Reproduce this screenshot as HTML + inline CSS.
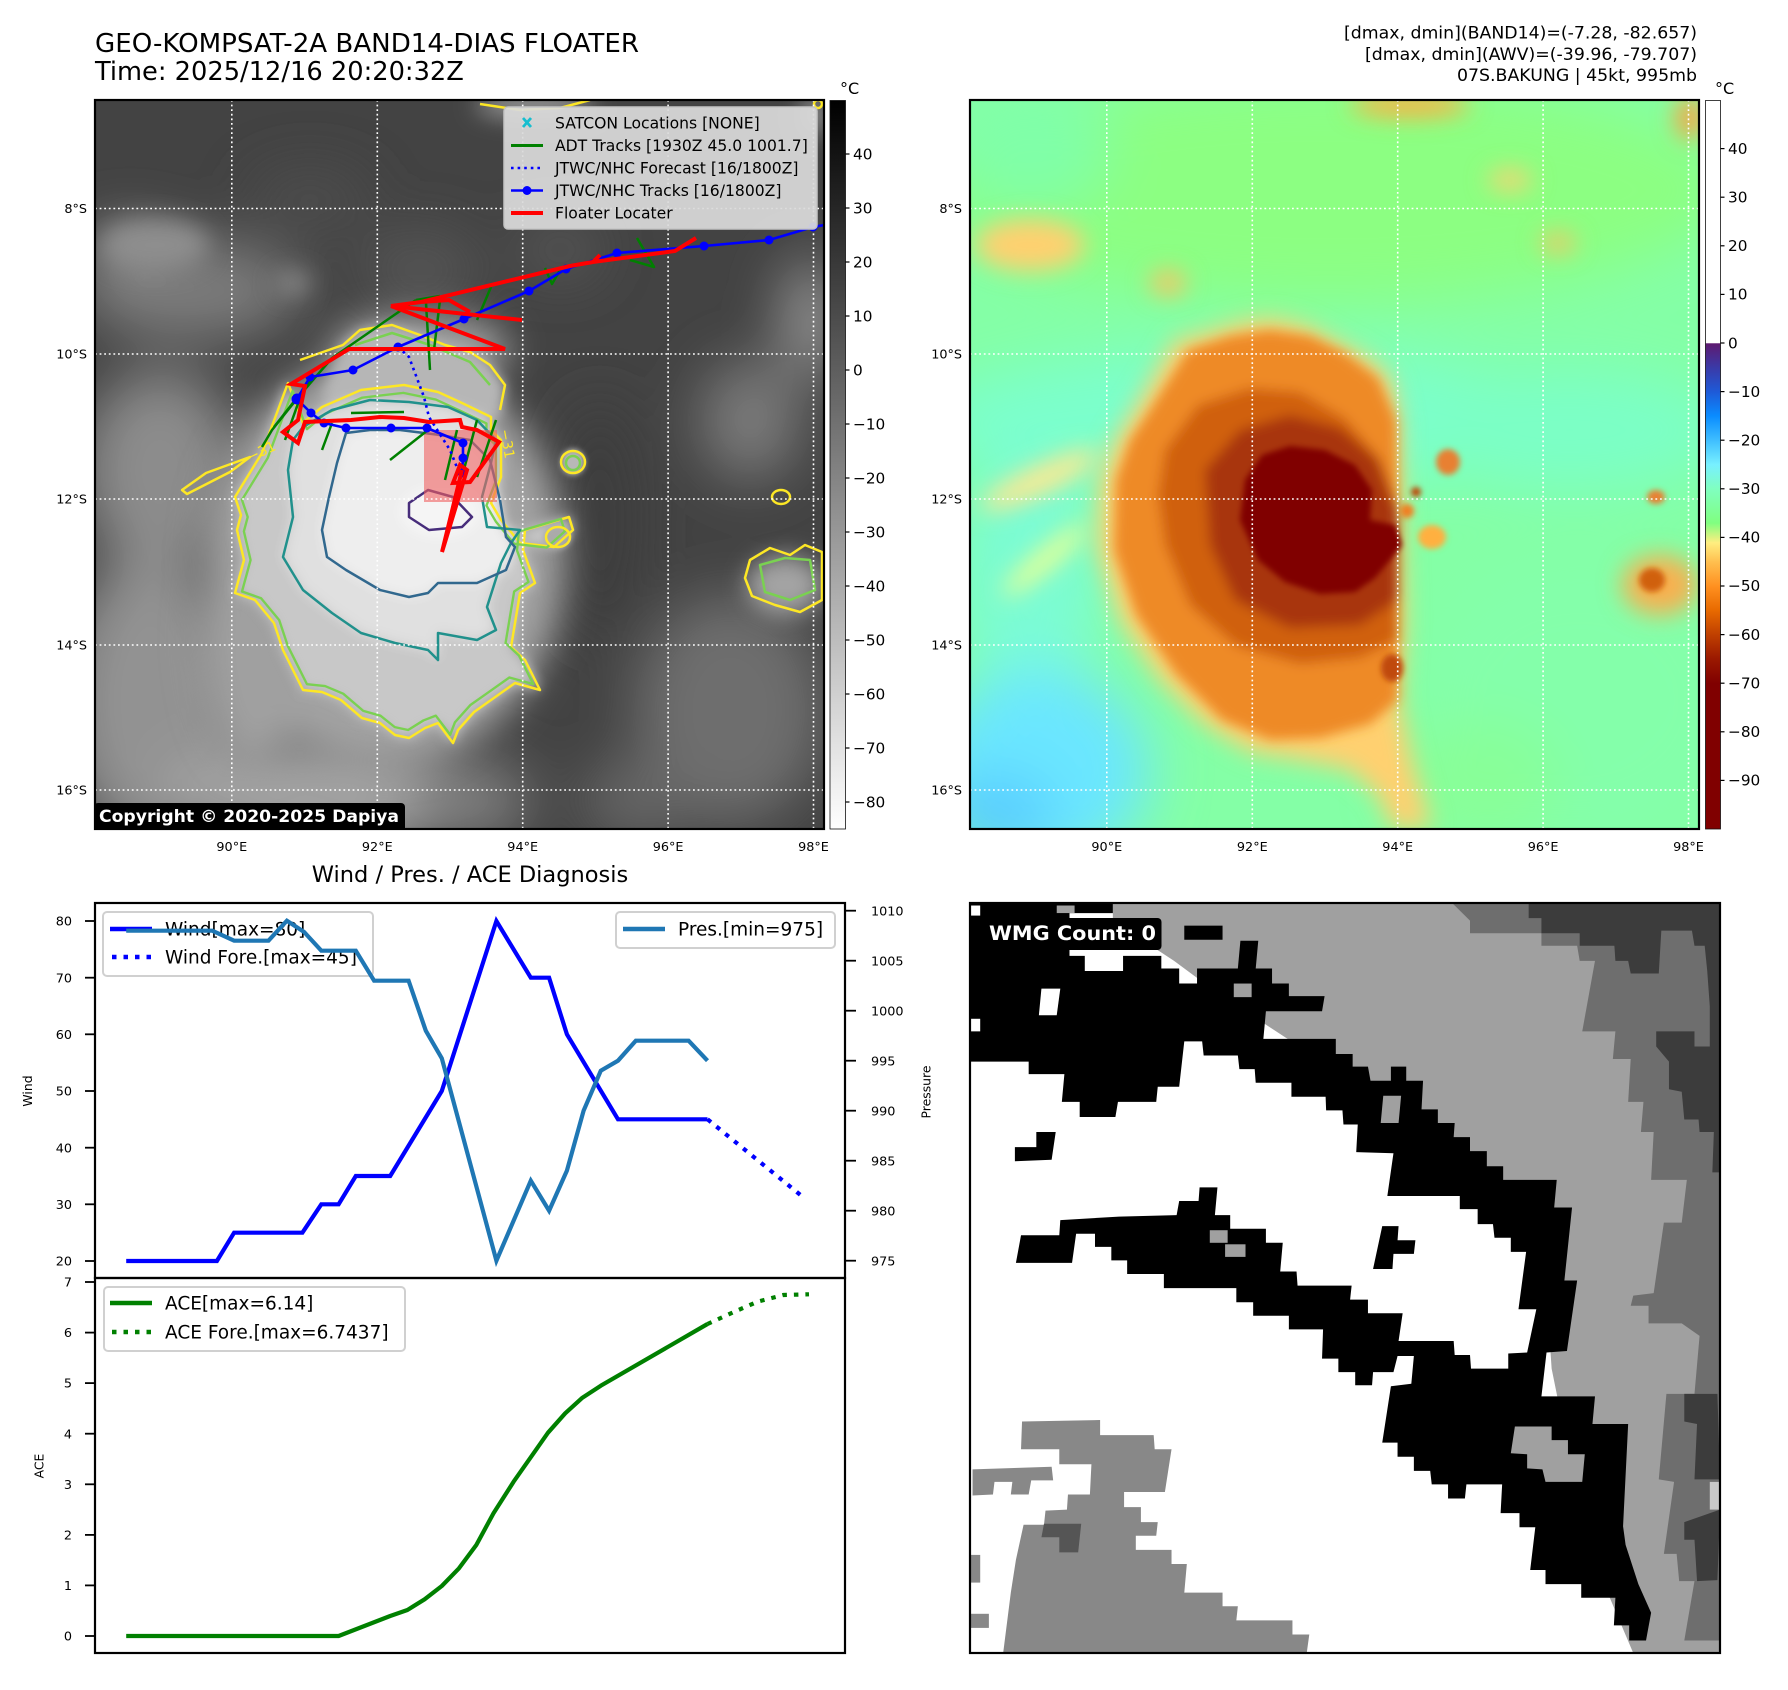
<!DOCTYPE html>
<html><head><meta charset="utf-8"><style>
html,body{margin:0;padding:0;background:#fff;}
svg{display:block;}
text{font-family:"DejaVu Sans","Liberation Sans",sans-serif;}
</style></head><body>
<svg width="1788" height="1690" viewBox="0 0 1788 1690" xmlns="http://www.w3.org/2000/svg">
<defs>
<filter id="b30" filterUnits="userSpaceOnUse" x="-1000" y="-200" width="3800" height="2200"><feGaussianBlur stdDeviation="28"/></filter>
<filter id="b18" filterUnits="userSpaceOnUse" x="-1000" y="-200" width="3800" height="2200"><feGaussianBlur stdDeviation="18"/></filter>
<filter id="b12" filterUnits="userSpaceOnUse" x="-1000" y="-200" width="3800" height="2200"><feGaussianBlur stdDeviation="12"/></filter>
<filter id="b6" filterUnits="userSpaceOnUse" x="-1000" y="-200" width="3800" height="2200"><feGaussianBlur stdDeviation="6"/></filter>
<filter id="b3" filterUnits="userSpaceOnUse" x="-1000" y="-200" width="3800" height="2200"><feGaussianBlur stdDeviation="3"/></filter>
<clipPath id="cL"><rect x="95" y="100" width="729" height="729"/></clipPath>
<clipPath id="cR"><rect x="970" y="100" width="729" height="729"/></clipPath>
<clipPath id="cW"><rect x="970" y="903" width="750" height="750"/></clipPath>
<linearGradient id="gL" x1="0" y1="0" x2="0" y2="1"><stop offset="0" stop-color="#000"/><stop offset="1" stop-color="#fff"/></linearGradient>
<linearGradient id="gR" x1="0" y1="0" x2="0" y2="1">
<stop offset="0" stop-color="#fff"/><stop offset="0.333" stop-color="#fff"/>
<stop offset="0.3335" stop-color="#5e1a70"/>
<stop offset="0.367" stop-color="#3a3aa8"/>
<stop offset="0.40" stop-color="#1e5ad8"/>
<stop offset="0.433" stop-color="#0a8cff"/>
<stop offset="0.467" stop-color="#40bfff"/>
<stop offset="0.50" stop-color="#78f0ff"/>
<stop offset="0.533" stop-color="#80ffc0"/>
<stop offset="0.58" stop-color="#80ff80"/>
<stop offset="0.607" stop-color="#ffee80"/>
<stop offset="0.633" stop-color="#ffc050"/>
<stop offset="0.667" stop-color="#ff9020"/>
<stop offset="0.70" stop-color="#e86a00"/>
<stop offset="0.733" stop-color="#c04000"/>
<stop offset="0.767" stop-color="#9a1800"/>
<stop offset="0.80" stop-color="#800000"/>
<stop offset="1" stop-color="#800000"/>
</linearGradient>
<path id="sF" d="M1140,400 L1175,340 L1205,333 L1240,322 L1270,318 L1305,325 L1340,343 L1372,360 L1392,380 L1400,420 L1402,520 L1405,620 L1400,700 L1412,760 L1432,829 L1392,829 L1378,795 L1350,770 L1300,760 L1250,752 L1205,725 L1160,680 L1120,620 L1098,550 L1100,480 L1115,440 Z"/>
<path id="sO" d="M1150,410 L1188,350 L1230,336 L1270,330 L1310,336 L1345,353 L1378,378 L1396,420 L1398,520 L1398,700 L1370,724 L1320,738 L1270,740 L1222,720 L1176,674 L1136,615 L1114,550 L1116,480 L1130,440 Z"/>
<path id="sD" d="M1165,450 L1198,405 L1250,388 L1300,392 L1345,418 L1380,458 L1398,510 L1398,640 L1360,658 L1300,664 L1236,646 L1190,605 L1165,545 L1158,495 Z"/>
<path id="sB" d="M1205,470 L1240,430 L1290,415 L1340,428 L1378,460 L1398,510 L1398,600 L1360,625 L1290,628 L1235,600 L1210,545 Z"/>
<path id="sC" d="M1240,520 L1245,480 L1262,455 L1290,446 L1325,450 L1355,465 L1372,490 L1370,520 L1395,525 L1402,545 L1390,560 L1375,578 L1355,592 L1320,594 L1285,582 L1258,560 Z"/>
<path id="lY" d="M288,383 L262,453 L235,497 L241,515 L237,530 L244,560 L235,593 L255,600 L274,623 L283,650 L293,670 L303,690 L322,692 L341,700 L362,718 L380,723 L395,735 L409,738 L425,728 L438,723 L453,743 L458,730 L474,712 L491,700 L515,683 L540,690 L525,660 L511,647 L520,593 L535,583 L523,550 L525,530 L569,517 L573,530 L554,547 L520,543 L501,520 L491,503 L501,477 L501,440 L491,430 L491,417 L462,403 L438,392 L404,385 L361,390 L322,407 L303,423 Z"/>
<path id="lT" d="M293,440 L288,470 L293,517 L283,557 L303,590 L332,613 L361,633 L395,643 L428,650 L438,660 L438,633 L477,640 L496,630 L487,607 L501,563 L511,543 L520,530 L487,527 L482,497 L491,463 L496,440 L477,420 L448,407 L409,402 L370,400 L332,410 L303,427 Z"/>
<path id="lS" d="M346,433 L337,463 L329,497 L322,530 L327,557 L346,570 L380,590 L409,597 L428,593 L438,583 L477,583 L506,570 L515,547 L506,537 L500,500 L490,460 L470,440 L440,435 L400,430 L370,430 Z"/>
</defs>

<rect width="1788" height="1690" fill="#fff"/>

<!-- ============ TITLES ============ -->
<text x="95" y="52" font-size="25.7" textLength="544" lengthAdjust="spacingAndGlyphs">GEO-KOMPSAT-2A BAND14-DIAS FLOATER</text>
<text x="95" y="80" font-size="25.7">Time: 2025/12/16 20:20:32Z</text>
<text x="1697" y="38.5" font-size="17" text-anchor="end" textLength="353" lengthAdjust="spacingAndGlyphs">[dmax, dmin](BAND14)=(-7.28, -82.657)</text>
<text x="1697" y="60" font-size="17" text-anchor="end" textLength="332" lengthAdjust="spacingAndGlyphs">[dmax, dmin](AWV)=(-39.96, -79.707)</text>
<text x="1697" y="81" font-size="17" text-anchor="end" textLength="240" lengthAdjust="spacingAndGlyphs">07S.BAKUNG | 45kt, 995mb</text>

<!-- ============ LEFT MAP ============ -->
<g clip-path="url(#cL)">
<rect x="95" y="100" width="729" height="729" fill="#434343"/>
<g filter="url(#b30)">
<ellipse cx="190" cy="290" rx="110" ry="50" fill="#7c7c7c"/>
<ellipse cx="130" cy="250" rx="45" ry="25" fill="#888"/>
<ellipse cx="310" cy="200" rx="60" ry="30" fill="#4e4e4e"/>
<ellipse cx="420" cy="270" rx="60" ry="40" fill="#555"/>
<ellipse cx="812" cy="320" rx="30" ry="60" fill="#959595"/>
<ellipse cx="750" cy="420" rx="50" ry="60" fill="#7a7a7a"/>
<ellipse cx="160" cy="470" rx="80" ry="100" fill="#8c8c8c"/>
<ellipse cx="150" cy="700" rx="90" ry="145" fill="#929292"/>
<ellipse cx="320" cy="795" rx="160" ry="60" fill="#a2a2a2"/>
<ellipse cx="470" cy="800" rx="60" ry="40" fill="#808080"/>
<ellipse cx="730" cy="710" rx="95" ry="115" fill="#6e6e6e"/>
<ellipse cx="640" cy="800" rx="60" ry="40" fill="#666"/>
<ellipse cx="560" cy="250" rx="40" ry="25" fill="#5a5a5a"/>
<ellipse cx="600" cy="520" rx="40" ry="120" fill="#3c3c3c"/>
</g>
<g filter="url(#b18)">
<ellipse cx="385" cy="560" rx="180" ry="205" fill="#a2a2a2"/>
<ellipse cx="255" cy="640" rx="55" ry="125" fill="#a0a0a0"/>
<ellipse cx="420" cy="350" rx="90" ry="35" fill="#a4a4a4"/>
</g>
<g filter="url(#b12)">
<ellipse cx="155" cy="245" rx="55" ry="26" fill="#8e8e8e"/>
<ellipse cx="293" cy="283" rx="18" ry="12" fill="#888"/>
<ellipse cx="535" cy="105" rx="60" ry="12" fill="#a0a0a0"/>
<ellipse cx="815" cy="115" rx="12" ry="20" fill="#9a9a9a"/>
<ellipse cx="785" cy="585" rx="38" ry="30" fill="#a4a4a4"/>
</g>
<g filter="url(#b6)">
<use href="#lY" fill="#c8c8c8"/>
<path d="M343,345 L360,330 L392,325 L420,335 L445,345 L470,352 L490,365 L505,385 L500,420 L440,400 L360,400 L320,400 Z" fill="#b6b6b6"/>
<use href="#lT" fill="#e0e0e0"/>
<use href="#lS" fill="#eeeeee"/>
<ellipse cx="440" cy="512" rx="40" ry="25" fill="#f5f5f5"/>
</g>
<g filter="url(#b3)">
<ellipse cx="573" cy="462" rx="12" ry="13" fill="#b8b8b8"/>
<ellipse cx="557" cy="537" rx="14" ry="12" fill="#aaa"/>
</g>
<!-- contours -->
<g fill="none" stroke-width="2.5" stroke-linejoin="round">
<use href="#lY" stroke="#fde725"/>
<use href="#lY" stroke="#7ad151" transform="translate(390 560) scale(0.955) translate(-390 -560)"/>
<path stroke="#fde725" d="M300,360 L343,345 L360,330 L392,325 L420,335 L445,345 L470,352 L490,365 L505,385 L500,410"/>
<path stroke="#7ad151" d="M355,345 L392,333 L430,345 L470,362 L490,385"/>
<path stroke="#fde725" d="M182,490 L206,473 L250,457 L230,472 L187,494 Z"/>
<use href="#lT" stroke="#21918c"/>
<use href="#lS" stroke="#31688e"/>
<path stroke="#472d7b" d="M409,503 L428,490 L453,497 L472,517 L462,527 L429,530 L409,517 Z"/>
<ellipse cx="573" cy="462" rx="12" ry="11" stroke="#fde725"/>
<ellipse cx="573" cy="463" rx="7" ry="7" stroke="#7ad151"/>
<ellipse cx="781" cy="497" rx="9" ry="7" stroke="#fde725"/>
<ellipse cx="558" cy="537" rx="12" ry="10" stroke="#fde725"/>
<path stroke="#fde725" d="M750,560 L770,548 L790,555 L805,545 L822,552 L822,600 L800,612 L775,605 L752,596 L745,578 Z"/>
<path stroke="#7ad151" d="M760,565 L785,558 L810,560 L815,590 L790,600 L765,592 Z"/>
<path stroke="#fde725" d="M480,104 L520,110 L560,108 L590,100"/>
<circle cx="818" cy="104" r="4" stroke="#fde725"/>
</g>
<text x="250" y="462" font-size="14" fill="#fde725" transform="rotate(-25 250 462)">−31</text>
<text x="500" y="430" font-size="14" fill="#fde725" transform="rotate(80 500 430)">−31</text>
<rect x="424" y="430" width="73" height="72" fill="#f06060" fill-opacity="0.6"/>
<g stroke="#fff" stroke-width="1.6" stroke-dasharray="1.8,2.8">
<line x1="231.8" y1="100" x2="231.8" y2="829"/><line x1="377.3" y1="100" x2="377.3" y2="829"/><line x1="522.7" y1="100" x2="522.7" y2="829"/><line x1="668.1" y1="100" x2="668.1" y2="829"/><line x1="813.5" y1="100" x2="813.5" y2="829"/>
<line x1="95" y1="208.5" x2="824" y2="208.5"/><line x1="95" y1="354" x2="824" y2="354"/><line x1="95" y1="499" x2="824" y2="499"/><line x1="95" y1="645" x2="824" y2="645"/><line x1="95" y1="790" x2="824" y2="790"/>
</g>
<g fill="none" stroke="#008000" stroke-width="2.5" stroke-linejoin="round">
<path d="M416,300 L332,358 L300,395 L272,430 L262,447"/>
<path d="M416,300 L440,296"/>
<path d="M426,303 L430,370"/>
<path d="M440,300 L434,350"/>
<path d="M477,320 L491,287"/>
<path d="M303,390 L274,427"/>
<path d="M322,450 L332,423"/>
<path d="M351,413 L404,412"/>
<path d="M390,460 L428,430"/>
<path d="M445,480 L457,430"/>
<path d="M462,477 L477,420"/>
<path d="M477,477 L496,420"/>
<path d="M545,268 L552,284 L560,270"/>
<path d="M637,238 L654,267 L630,260"/>
<path d="M285,440 L300,398 L310,380"/>
</g>
<g fill="none" stroke="#0000ff" stroke-width="2.6" stroke-dasharray="2.6,4">
<path d="M398,347 L409,357 L424,397 L429,417 L450,450 L458,470"/>
</g>
<g fill="none" stroke="#0000ff" stroke-width="2.6" stroke-linejoin="round">
<path d="M830,224 L813,227 L769,240 L704,246 L617,253 L566,269 L529,291 L464,319 L398,347 L353,370 L310,377 L297,399 L311,413 L324,423 L346,428 L391,428 L427,428 L463,443 L463,458 L462,473"/>
</g>
<g fill="#0000ff">
<circle cx="813" cy="227" r="4.5"/><circle cx="769" cy="240" r="4.5"/><circle cx="704" cy="246" r="4.5"/><circle cx="617" cy="253" r="4.5"/><circle cx="566" cy="269" r="4.5"/><circle cx="529" cy="291" r="4.5"/><circle cx="464" cy="319" r="4.5"/><circle cx="398" cy="347" r="4.5"/><circle cx="353" cy="370" r="4.5"/><circle cx="310" cy="377" r="4.5"/><circle cx="297" cy="399" r="5.5"/><circle cx="311" cy="413" r="4.5"/><circle cx="324" cy="423" r="4.5"/><circle cx="346" cy="428" r="4.5"/><circle cx="391" cy="428" r="4.5"/><circle cx="427" cy="428" r="4.5"/><circle cx="463" cy="443" r="4.5"/><circle cx="463" cy="458" r="4.5"/><circle cx="462" cy="473" r="4.5"/>
</g>
<g fill="none" stroke="#ff0000" stroke-width="4" stroke-linejoin="miter">
<path d="M696,238 L675,251 L593,262 L600,255 M593,262 L570,266 L421,302 L391,306 L522,320 M421,302 L449,300 L470,312"/>
<path d="M391,306 L505,349 L349,349 L291,384 L305,386 L298,420 L283,432 L298,443 L305,422 L351,420 L380,417 L404,418 L429,422 L460,420 L462,427 L477,430 L499,442 L470,482 L453,483 L460,465 L467,470 L442,552 L462,470"/>
</g>
<rect x="94" y="803" width="311" height="30" rx="4" fill="#000"/>
<text x="99" y="822" font-size="17" font-weight="bold" fill="#fff" textLength="300" lengthAdjust="spacingAndGlyphs">Copyright © 2020-2025 Dapiya</text>
</g>
<rect x="504" y="107" width="313" height="122" rx="4" fill="#dadada" fill-opacity="0.93" stroke="#c4c4c4" stroke-width="1.5"/>
<g stroke="#17becf" stroke-width="2.8"><line x1="523" y1="118" x2="531" y2="127"/><line x1="531" y1="118" x2="523" y2="127"/></g>
<line x1="511" y1="145.5" x2="543" y2="145.5" stroke="#008000" stroke-width="3"/>
<line x1="511" y1="168" x2="543" y2="168" stroke="#0000ff" stroke-width="2.6" stroke-dasharray="2.6,4"/>
<line x1="511" y1="190.5" x2="543" y2="190.5" stroke="#0000ff" stroke-width="2.6"/><circle cx="527" cy="190.5" r="4.5" fill="#0000ff"/>
<line x1="511" y1="213" x2="543" y2="213" stroke="#ff0000" stroke-width="4"/>
<g font-size="15.6" fill="#000">
<text x="555" y="128.5">SATCON Locations [NONE]</text>
<text x="555" y="151">ADT Tracks [1930Z 45.0 1001.7]</text>
<text x="555" y="173.5">JTWC/NHC Forecast [16/1800Z]</text>
<text x="555" y="196">JTWC/NHC Tracks [16/1800Z]</text>
<text x="555" y="218.5">Floater Locater</text>
</g>
<rect x="95" y="100" width="729" height="729" fill="none" stroke="#000" stroke-width="2.2"/>
<rect x="830" y="100.5" width="15.5" height="728.5" fill="url(#gL)" stroke="#111" stroke-width="0.8"/>
<text x="840" y="94" font-size="16">°C</text>
<g font-size="15.3" fill="#000">
<text x="853" y="159.5">40</text><text x="853" y="213.5">30</text><text x="853" y="267.5">20</text><text x="853" y="321.5">10</text><text x="853" y="375.5">0</text><text x="853" y="429.5">−10</text><text x="853" y="483.5">−20</text><text x="853" y="537.5">−30</text><text x="853" y="591.5">−40</text><text x="853" y="645.5">−50</text><text x="853" y="699.5">−60</text><text x="853" y="753.5">−70</text><text x="853" y="807.5">−80</text>
</g>
<g stroke="#000" stroke-width="1.2">
<line x1="845.5" y1="154" x2="849.5" y2="154"/><line x1="845.5" y1="208" x2="849.5" y2="208"/><line x1="845.5" y1="262" x2="849.5" y2="262"/><line x1="845.5" y1="316" x2="849.5" y2="316"/><line x1="845.5" y1="370" x2="849.5" y2="370"/><line x1="845.5" y1="424" x2="849.5" y2="424"/><line x1="845.5" y1="478" x2="849.5" y2="478"/><line x1="845.5" y1="532" x2="849.5" y2="532"/><line x1="845.5" y1="586" x2="849.5" y2="586"/><line x1="845.5" y1="640" x2="849.5" y2="640"/><line x1="845.5" y1="694" x2="849.5" y2="694"/><line x1="845.5" y1="748" x2="849.5" y2="748"/><line x1="845.5" y1="802" x2="849.5" y2="802"/>
</g>
<g font-size="12.8" fill="#000" text-anchor="end">
<text x="87" y="213">8°S</text><text x="87" y="358.5">10°S</text><text x="87" y="503.5">12°S</text><text x="87" y="649.5">14°S</text><text x="87" y="794.5">16°S</text>
<text x="962" y="213">8°S</text><text x="962" y="358.5">10°S</text><text x="962" y="503.5">12°S</text><text x="962" y="649.5">14°S</text><text x="962" y="794.5">16°S</text>
</g>
<g font-size="12.8" fill="#000" text-anchor="middle">
<text x="231.8" y="851">90°E</text><text x="377.3" y="851">92°E</text><text x="522.7" y="851">94°E</text><text x="668.1" y="851">96°E</text><text x="813.5" y="851">98°E</text>
<text x="1106.8" y="851">90°E</text><text x="1252.3" y="851">92°E</text><text x="1397.7" y="851">94°E</text><text x="1543.1" y="851">96°E</text><text x="1688.5" y="851">98°E</text>
</g>

<!-- ============ RIGHT MAP ============ -->
<g clip-path="url(#cR)">
<rect x="970" y="100" width="729" height="729" fill="#84ffa6"/>
<g filter="url(#b30)">
<ellipse cx="1330" cy="190" rx="400" ry="110" fill="#8cff82"/>
<ellipse cx="1030" cy="150" rx="80" ry="60" fill="#80ffa8"/>
<ellipse cx="1250" cy="420" rx="330" ry="70" fill="#7cffcc"/>
<ellipse cx="1570" cy="430" rx="160" ry="60" fill="#7cffc6"/>
<ellipse cx="1580" cy="700" rx="160" ry="140" fill="#84ffaa"/>
<ellipse cx="1030" cy="580" rx="70" ry="140" fill="#7cfcd4"/>
<ellipse cx="1040" cy="770" rx="110" ry="100" fill="#6ae6ff"/>
<ellipse cx="995" cy="815" rx="60" ry="40" fill="#58ccff"/>
<ellipse cx="1480" cy="780" rx="80" ry="60" fill="#88ff98"/>
</g>
<g filter="url(#b12)">
<ellipse cx="1030" cy="245" rx="55" ry="26" fill="#ffd070"/>
<ellipse cx="1168" cy="283" rx="18" ry="12" fill="#ffc060"/>
<ellipse cx="1510" cy="180" rx="22" ry="10" fill="#ffd070"/>
<ellipse cx="1558" cy="243" rx="18" ry="9" fill="#ffc060"/>
<ellipse cx="1410" cy="105" rx="60" ry="12" fill="#ffb040"/>
<ellipse cx="1690" cy="118" rx="14" ry="22" fill="#ffa040"/>
<ellipse cx="1040" cy="480" rx="65" ry="14" fill="#ffe890" transform="rotate(-25 1040 480)"/>
<ellipse cx="1045" cy="560" rx="55" ry="10" fill="#f0ff90" transform="rotate(-40 1045 560)"/>
<ellipse cx="1660" cy="585" rx="38" ry="30" fill="#f8b050"/>
</g>
<g filter="url(#b12)">
<use href="#sF" fill="#ffd070"/>
</g>
<g filter="url(#b6)">
<use href="#sO" fill="#ee8a28"/>
<use href="#sD" fill="#d06010"/>
<use href="#sB" fill="#a83408"/>
</g>
<g filter="url(#b3)">
<use href="#sC" fill="#800000"/>
</g>
<g filter="url(#b3)">
<ellipse cx="1448" cy="462" rx="12" ry="13" fill="#e88030"/>
<circle cx="1416" cy="492" r="5" fill="#c04000"/>
<circle cx="1407" cy="511" r="7" fill="#f08020"/>
<ellipse cx="1432" cy="537" rx="14" ry="12" fill="#ffb040"/>
<ellipse cx="1656" cy="497" rx="9" ry="7" fill="#e88030"/>
<ellipse cx="1652" cy="580" rx="13" ry="12" fill="#d06010"/>
<ellipse cx="1392" cy="668" rx="11" ry="14" fill="#c04a10"/>
</g>
<g stroke="#fff" stroke-width="1.6" stroke-dasharray="1.8,2.8">
<line x1="1106.8" y1="100" x2="1106.8" y2="829"/><line x1="1252.3" y1="100" x2="1252.3" y2="829"/><line x1="1397.7" y1="100" x2="1397.7" y2="829"/><line x1="1543.1" y1="100" x2="1543.1" y2="829"/><line x1="1688.5" y1="100" x2="1688.5" y2="829"/>
<line x1="970" y1="208.5" x2="1699" y2="208.5"/><line x1="970" y1="354" x2="1699" y2="354"/><line x1="970" y1="499" x2="1699" y2="499"/><line x1="970" y1="645" x2="1699" y2="645"/><line x1="970" y1="790" x2="1699" y2="790"/>
</g>
</g>
<rect x="970" y="100" width="729" height="729" fill="none" stroke="#000" stroke-width="2.2"/>
<rect x="1705.5" y="100.5" width="15" height="728.5" fill="url(#gR)" stroke="#111" stroke-width="0.8"/>
<text x="1715" y="94" font-size="16">°C</text>
<g font-size="15.3" fill="#000">
<text x="1728" y="154">40</text><text x="1728" y="202.5">30</text><text x="1728" y="251">20</text><text x="1728" y="299.5">10</text><text x="1728" y="348.5">0</text><text x="1728" y="397">−10</text><text x="1728" y="445.5">−20</text><text x="1728" y="494">−30</text><text x="1728" y="542.5">−40</text><text x="1728" y="591">−50</text><text x="1728" y="640">−60</text><text x="1728" y="688.5">−70</text><text x="1728" y="737">−80</text><text x="1728" y="785.5">−90</text>
</g>
<g stroke="#000" stroke-width="1.2">
<line x1="1720.5" y1="148.6" x2="1724.5" y2="148.6"/><line x1="1720.5" y1="197.2" x2="1724.5" y2="197.2"/><line x1="1720.5" y1="245.8" x2="1724.5" y2="245.8"/><line x1="1720.5" y1="294.4" x2="1724.5" y2="294.4"/><line x1="1720.5" y1="343" x2="1724.5" y2="343"/><line x1="1720.5" y1="391.6" x2="1724.5" y2="391.6"/><line x1="1720.5" y1="440.2" x2="1724.5" y2="440.2"/><line x1="1720.5" y1="488.8" x2="1724.5" y2="488.8"/><line x1="1720.5" y1="537.4" x2="1724.5" y2="537.4"/><line x1="1720.5" y1="586" x2="1724.5" y2="586"/><line x1="1720.5" y1="634.6" x2="1724.5" y2="634.6"/><line x1="1720.5" y1="683.2" x2="1724.5" y2="683.2"/><line x1="1720.5" y1="731.8" x2="1724.5" y2="731.8"/><line x1="1720.5" y1="780.4" x2="1724.5" y2="780.4"/>
</g>

<!-- ============ WIND / PRES ============ -->
<text x="470" y="882" font-size="22.5" text-anchor="middle">Wind / Pres. / ACE Diagnosis</text>
<rect x="103" y="912" width="270" height="64" rx="4" fill="#fff" fill-opacity="0.8" stroke="#d0d0d0" stroke-width="2"/>
<line x1="110" y1="929" x2="152" y2="929" stroke="#0000ff" stroke-width="4.5"/>
<line x1="112" y1="957" x2="152" y2="957" stroke="#0000ff" stroke-width="4.5" stroke-dasharray="4.5,7"/>
<text x="165" y="935.5" font-size="18.5">Wind[max=80]</text>
<text x="165" y="963.5" font-size="18.5">Wind Fore.[max=45]</text>
<polyline fill="none" stroke="#0000ff" stroke-width="4.2" stroke-linejoin="miter" points="126.2,1261 216.9,1261 234.1,1232.7 302.4,1232.7 321.3,1204.3 338.6,1204.3 355.8,1176 390.2,1176 441.8,1091 496.4,921 530.8,977.7 549.1,977.7 566.9,1034.3 618,1119.3 707.5,1119.3"/>
<polyline fill="none" stroke="#0000ff" stroke-width="4.2" stroke-dasharray="4.5,7" points="707.5,1119.3 804.5,1198.3"/>
<polyline fill="none" stroke="#1f77b4" stroke-width="4.2" stroke-linejoin="miter" points="126.2,930.7 212.3,930.7 234.1,940.7 268.5,940.7 286.9,920.7 304.1,932 321.3,950.7 355.8,950.7 374.1,980.7 408.6,980.7 425.8,1030.7 441.8,1058.3 496.4,1260.7 530.8,1180.7 549.1,1210.7 566.9,1170.7 583.6,1110.7 600.8,1070.7 618,1060.7 635.8,1040.7 688.6,1040.7 707.5,1060.7"/>
<rect x="616" y="912" width="219" height="36" rx="4" fill="#fff" fill-opacity="0.8" stroke="#d0d0d0" stroke-width="2"/>
<line x1="623" y1="929" x2="665" y2="929" stroke="#1f77b4" stroke-width="4.5"/>
<text x="678" y="935.5" font-size="18.5">Pres.[min=975]</text>
<rect x="95" y="903" width="750" height="375" fill="none" stroke="#000" stroke-width="2.2"/>
<g stroke="#000" stroke-width="1.8">
<line x1="85" y1="921" x2="95" y2="921"/><line x1="85" y1="977.7" x2="95" y2="977.7"/><line x1="85" y1="1034.3" x2="95" y2="1034.3"/><line x1="85" y1="1091" x2="95" y2="1091"/><line x1="85" y1="1147.7" x2="95" y2="1147.7"/><line x1="85" y1="1204.3" x2="95" y2="1204.3"/><line x1="85" y1="1261" x2="95" y2="1261"/>
<line x1="845" y1="910.7" x2="856" y2="910.7"/><line x1="845" y1="960.7" x2="856" y2="960.7"/><line x1="845" y1="1010.7" x2="856" y2="1010.7"/><line x1="845" y1="1060.7" x2="856" y2="1060.7"/><line x1="845" y1="1110.7" x2="856" y2="1110.7"/><line x1="845" y1="1160.7" x2="856" y2="1160.7"/><line x1="845" y1="1210.7" x2="856" y2="1210.7"/><line x1="845" y1="1260.7" x2="856" y2="1260.7"/>
</g>
<g font-size="12.8" text-anchor="end">
<text x="72" y="925.6">80</text><text x="72" y="982.3">70</text><text x="72" y="1038.9">60</text><text x="72" y="1095.6">50</text><text x="72" y="1152.3">40</text><text x="72" y="1208.9">30</text><text x="72" y="1265.6">20</text>
</g>
<g font-size="12.8">
<text x="871" y="915.3">1010</text><text x="871" y="965.3">1005</text><text x="871" y="1015.3">1000</text><text x="871" y="1065.3">995</text><text x="871" y="1115.3">990</text><text x="871" y="1165.3">985</text><text x="871" y="1215.3">980</text><text x="871" y="1265.3">975</text>
</g>
<text transform="translate(32,1091) rotate(-90)" font-size="12.4" text-anchor="middle">Wind</text>
<text transform="translate(930.5,1092) rotate(-90)" font-size="12.4" text-anchor="middle">Pressure</text>

<!-- ============ ACE ============ -->
<rect x="104" y="1287" width="301" height="64" rx="4" fill="#fff" fill-opacity="0.8" stroke="#d0d0d0" stroke-width="2"/>
<line x1="110" y1="1303" x2="152" y2="1303" stroke="#008000" stroke-width="4.5"/>
<line x1="112" y1="1332" x2="152" y2="1332" stroke="#008000" stroke-width="4.5" stroke-dasharray="4.5,7"/>
<text x="165" y="1309.5" font-size="18.5">ACE[max=6.14]</text>
<text x="165" y="1338.5" font-size="18.5">ACE Fore.[max=6.7437]</text>
<polyline fill="none" stroke="#008000" stroke-width="4.2" stroke-linejoin="round" points="126.2,1636 338.6,1636 390.2,1616 407.4,1610 424.6,1599.3 441.8,1586 459,1568.3 476.3,1545 493.5,1513.3 513.6,1481.7 548,1432.7 565.2,1413.3 582.4,1397.7 600.8,1385.7 707.5,1324"/>
<path fill="none" stroke="#008000" stroke-width="4.2" stroke-dasharray="4.5,7" d="M707.5,1324 L734.5,1311.7 L757.5,1301.7 L783.3,1295 L809,1294.3"/>
<rect x="95" y="1278" width="750" height="375" fill="none" stroke="#000" stroke-width="2.2"/>
<g stroke="#000" stroke-width="1.8">
<line x1="85" y1="1282" x2="95" y2="1282"/><line x1="85" y1="1332.6" x2="95" y2="1332.6"/><line x1="85" y1="1383.1" x2="95" y2="1383.1"/><line x1="85" y1="1433.7" x2="95" y2="1433.7"/><line x1="85" y1="1484.3" x2="95" y2="1484.3"/><line x1="85" y1="1534.9" x2="95" y2="1534.9"/><line x1="85" y1="1585.4" x2="95" y2="1585.4"/><line x1="85" y1="1636" x2="95" y2="1636"/>
</g>
<g font-size="12.8" text-anchor="end">
<text x="72" y="1286.6">7</text><text x="72" y="1337.2">6</text><text x="72" y="1387.7">5</text><text x="72" y="1438.3">4</text><text x="72" y="1488.9">3</text><text x="72" y="1539.5">2</text><text x="72" y="1590">1</text><text x="72" y="1640.6">0</text>
</g>
<text transform="translate(43.5,1466) rotate(-90)" font-size="12.4" text-anchor="middle">ACE</text>

<!-- ============ WMG ============ -->
<g clip-path="url(#cW)">
<rect x="970" y="903" width="750" height="750" fill="#fff"/>
<g transform="translate(970,903) scale(0.5102,0.5034) translate(-20,-25)">
<polygon fill="#a0a0a0" points="300,25 1490,25 1490,1515 1320,1515 1230,1300 1190,1100 1160,950 1150,800 1120,650 950,520 800,420 650,300 500,200 420,140 300,60"/>
<polygon fill="#6e6e6e" points="965,25 1000,60 1000,85 1140,85 1140,110 1210,110 1215,140 1245,140 1220,280 1285,280 1280,335 1315,335 1310,420 1340,420 1335,480 1360,480 1355,575 1425,575 1415,660 1380,660 1360,800 1320,805 1315,825 1350,825 1350,860 1415,860 1450,885 1440,1000 1385,1000 1370,1170 1400,1175 1380,1318 1405,1318 1410,1372 1440,1372 1420,1490 1490,1490 1490,25"/>
<polygon fill="#3c3c3c" points="1115,25 1490,25 1490,160 1465,160 1460,110 1440,110 1435,80 1375,80 1370,165 1315,165 1310,140 1285,140 1283,110 1215,110 1215,85 1140,85 1140,55 1115,55"/>
<polygon fill="#3c3c3c" points="1465,160 1490,160 1490,560 1475,560 1478,480 1450,480 1448,455 1420,455 1415,400 1390,395 1390,340 1365,310 1365,280 1440,280 1440,310 1470,310 1470,230"/>
<polygon fill="#3c3c3c" points="1420,1000 1485,1000 1490,1170 1440,1170 1445,1060 1420,1055"/>
<polygon fill="#3c3c3c" points="1420,1255 1490,1230 1485,1370 1445,1372 1440,1290 1420,1290"/>
<rect x="1470" y="1175" width="20" height="55" fill="#c8c8c8"/>
<polygon fill="#000" points="20,25 300,25 300,45 215,45 215,130 245,130 245,160 320,160 320,130 395,130 395,155 430,155 430,185 465,185 465,155 545,155 550,100 585,100 580,155 612,155 612,185 645,185 645,210 715,210 710,240 600,240 595,295 737,295 737,325 770,325 770,350 800,350 805,378 845,378 845,350 875,350 875,378 908,378 905,435 937,435 937,462 970,462 968,490 1000,490 1000,518 1033,518 1033,548 1065,548 1065,575 1170,575 1165,630 1200,630 1185,775 1210,775 1190,915 1150,918 1140,1005 1245,1005 1240,1060 1310,1060 1300,1263 1305,1300 1330,1378 1355,1435 1345,1490 1312,1490 1312,1460 1282,1460 1285,1405 1218,1405 1218,1378 1148,1378 1148,1350 1118,1350 1128,1265 1097,1265 1097,1237 1060,1237 1063,1180 993,1180 990,1208 957,1208 957,1180 925,1180 922,1153 890,1153 890,1125 858,1125 858,1097 828,1097 845,985 885,980 890,925 858,925 850,957 810,957 808,983 775,983 775,957 742,957 742,930 710,930 712,872 645,872 645,845 575,845 575,818 542,818 542,790 400,790 400,762 328,762 328,735 297,735 297,708 265,708 265,682 228,682 220,740 110,740 120,685 195,685 197,655 312,648 425,645 430,617 468,617 470,590 505,590 500,645 530,645 530,672 600,672 600,700 633,700 628,757 660,757 662,785 768,785 765,813 800,813 800,840 868,840 860,895 968,895 970,923 1000,923 1002,950 1075,950 1075,920 1112,918 1130,832 1095,832 1110,718 1080,718 1080,690 1048,690 1045,663 1015,663 1015,633 980,633 980,607 838,607 850,522 777,520 780,465 752,465 750,437 718,437 717,410 650,410 650,382 580,382 578,355 548,355 545,328 478,328 475,300 440,300 430,390 388,390 385,420 310,420 305,450 235,450 235,420 200,420 205,365 135,365 135,340 20,340"/>
<rect x="440" y="70" width="75" height="28" fill="#000"/>
<polygon fill="#000" points="108,510 150,510 150,480 188,480 180,535 108,538"/>
<polygon fill="#000" points="828,667 860,667 858,695 893,695 890,722 850,722 848,752 810,752"/>
<polygon fill="#fff" points="160,195 197,195 190,248 155,248"/>
<rect x="20" y="255" width="20" height="25" fill="#fff"/>
<rect x="20" y="30" width="20" height="20" fill="#fff"/>
<rect x="537" y="185" width="35" height="27" fill="#a0a0a0"/>
<rect x="190" y="30" width="35" height="15" fill="#a0a0a0"/>
<polygon fill="#a0a0a0" points="830,408 865,408 860,462 825,462"/>
<rect x="490" y="675" width="35" height="25" fill="#a0a0a0"/>
<rect x="520" y="703" width="40" height="25" fill="#a0a0a0"/>
<polygon fill="#a0a0a0" points="1088,1065 1160,1065 1160,1092 1192,1092 1192,1120 1225,1120 1220,1175 1148,1175 1142,1150 1112,1148 1112,1120 1080,1118"/>
<polygon fill="#888" points="122,1055 275,1052 275,1082 380,1082 382,1110 415,1110 402,1195 322,1195 322,1225 355,1225 355,1255 388,1255 385,1282 345,1282 345,1310 415,1310 415,1338 445,1338 440,1395 515,1395 515,1422 545,1422 542,1450 652,1450 652,1478 685,1478 680,1515 85,1515 100,1395 110,1330 125,1260 165,1260 168,1232 210,1230 212,1200 255,1200 258,1140 195,1140 195,1110 120,1110"/>
<polygon fill="#888" points="25,1150 180,1145 183,1172 140,1172 135,1200 100,1200 103,1175 68,1175 65,1200 25,1202"/>
<rect x="20" y="1320" width="20" height="55" fill="#888"/>
<rect x="20" y="1437" width="37" height="28" fill="#888"/>
<polygon fill="#555" points="165,1258 238,1258 232,1315 195,1315 195,1285 160,1285"/>
</g>
</g>
<rect x="970" y="903" width="750" height="750" fill="none" stroke="#000" stroke-width="2.2"/>
<rect x="972.5" y="918" width="189" height="32" rx="4" fill="#000"/>
<text x="989" y="940" font-size="19.5" font-weight="bold" fill="#fff" textLength="167" lengthAdjust="spacingAndGlyphs">WMG Count: 0</text>
</svg>
</body></html>
